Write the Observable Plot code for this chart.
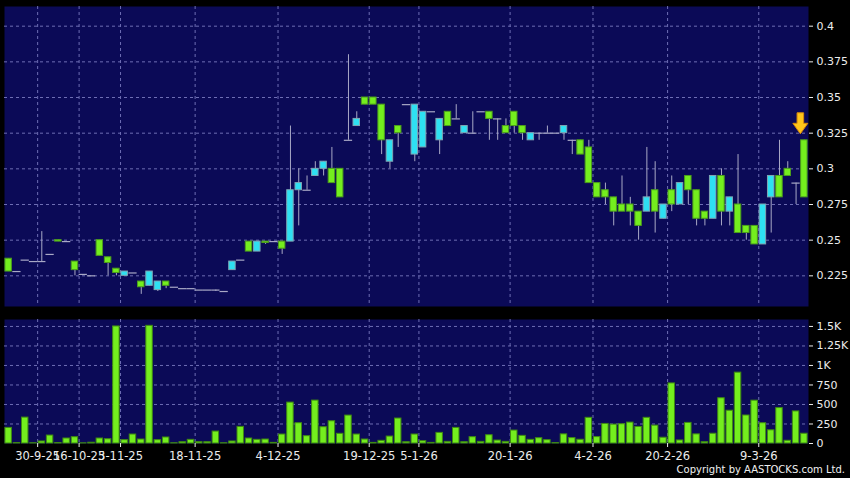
<!DOCTYPE html>
<html><head><meta charset="utf-8">
<script src="https://cdn.jsdelivr.net/npm/d3@7"></script>
<script src="https://cdn.jsdelivr.net/npm/@observablehq/plot@0.6"></script>
<style>
html,body{margin:0;padding:0;background:#000;}
body{width:850px;height:478px;overflow:hidden;position:relative;font-family:"DejaVu Sans",sans-serif;}
#price{position:absolute;left:0;top:0;}
#vol{position:absolute;left:0;top:312px;}
#copy{position:absolute;right:5px;top:464px;color:#f0f0f0;font-size:10px;font-family:"DejaVu Sans",sans-serif;}
</style></head><body>
<div id="price"></div><div id="vol"></div>
<div id="copy">Copyright by AASTOCKS.com Ltd.</div>
<script>
// ---- data (one entry per trading day, oldest first) ----
const opens  = [0.237,0.228,0.236,0.235,0.235,0.240,0.250,0.249,0.235,0.226,
                0.225,0.250,0.238,0.230,0.225,0.227,0.221,0.218,0.215,0.221,
                0.217,0.216,0.216,0.215,0.215,0.215,0.214,0.229,0.236,0.249,
                0.242,0.249,0.249,0.249,0.249,0.285,0.285,0.295,0.300,0.300,
                0.300,0.320,0.330,0.350,0.350,0.345,0.305,0.330,0.345,0.310,
                0.315,0.340,0.320,0.340,0.335,0.325,0.325,0.340,0.340,0.335,
                0.330,0.340,0.330,0.320,0.325,0.325,0.325,0.325,0.320,0.320,
                0.315,0.290,0.285,0.280,0.275,0.275,0.270,0.270,0.285,0.265,
                0.285,0.275,0.295,0.285,0.270,0.265,0.295,0.270,0.275,0.260,
                0.260,0.247,0.280,0.295,0.300,0.290,0.320];
const highs  = [0.237,0.228,0.236,0.235,0.256,0.240,0.250,0.249,0.235,0.226,
                0.225,0.250,0.238,0.230,0.228,0.227,0.221,0.228,0.221,0.221,
                0.217,0.216,0.216,0.215,0.215,0.215,0.214,0.235,0.236,0.249,
                0.249,0.249,0.249,0.249,0.330,0.300,0.295,0.305,0.305,0.315,
                0.300,0.380,0.340,0.350,0.350,0.345,0.320,0.330,0.345,0.345,
                0.340,0.340,0.335,0.340,0.345,0.330,0.340,0.340,0.340,0.335,
                0.335,0.340,0.330,0.325,0.325,0.330,0.325,0.330,0.320,0.320,
                0.320,0.290,0.290,0.280,0.295,0.280,0.270,0.315,0.305,0.275,
                0.295,0.290,0.295,0.285,0.270,0.295,0.300,0.280,0.310,0.260,
                0.260,0.275,0.295,0.320,0.305,0.290,0.320];
const lows   = [0.228,0.228,0.236,0.235,0.235,0.240,0.249,0.249,0.225,0.226,
                0.225,0.239,0.225,0.225,0.225,0.227,0.212,0.218,0.214,0.216,
                0.217,0.216,0.216,0.215,0.215,0.214,0.214,0.229,0.236,0.242,
                0.242,0.247,0.249,0.240,0.249,0.260,0.285,0.295,0.295,0.290,
                0.280,0.320,0.330,0.345,0.345,0.310,0.300,0.315,0.345,0.305,
                0.315,0.340,0.310,0.330,0.335,0.325,0.325,0.340,0.320,0.320,
                0.325,0.325,0.320,0.320,0.320,0.325,0.325,0.320,0.310,0.310,
                0.290,0.280,0.275,0.260,0.270,0.260,0.250,0.270,0.255,0.265,
                0.270,0.275,0.275,0.260,0.260,0.265,0.260,0.260,0.255,0.250,
                0.247,0.247,0.255,0.280,0.295,0.275,0.280];
const closes = [0.228,0.228,0.236,0.235,0.235,0.240,0.249,0.249,0.229,0.226,
                0.225,0.239,0.234,0.227,0.228,0.227,0.217,0.228,0.221,0.218,
                0.217,0.216,0.216,0.215,0.215,0.215,0.214,0.235,0.236,0.242,
                0.249,0.248,0.249,0.244,0.285,0.290,0.285,0.300,0.305,0.290,
                0.280,0.320,0.335,0.345,0.345,0.320,0.320,0.325,0.345,0.345,
                0.340,0.340,0.335,0.330,0.335,0.330,0.325,0.340,0.335,0.335,
                0.325,0.330,0.325,0.325,0.325,0.325,0.325,0.330,0.320,0.310,
                0.290,0.280,0.280,0.270,0.270,0.270,0.260,0.280,0.270,0.275,
                0.275,0.290,0.285,0.265,0.265,0.295,0.270,0.280,0.255,0.255,
                0.247,0.275,0.295,0.280,0.295,0.290,0.280];
const volumes = [200,5,332,3,26,102,5,64,81,2,
                 10,64,55,1500,43,115,51,1508,43,77,
                 3,17,47,17,17,153,3,26,213,64,
                 47,51,8,115,524,260,94,550,209,285,
                 124,358,115,51,8,34,89,320,17,115,
                 30,8,136,21,200,17,81,21,106,38,
                 21,166,98,47,68,43,5,117,69,48,
                 329,82,251,242,247,268,212,329,229,74,
                 770,39,264,117,17,125,580,420,908,359,
                 549,260,169,454,35,411,125];
const dateTickIndex  = [3, 8, 13, 22, 32, 43, 49, 60, 70, 79, 90];
const dateTickLabels = ["30-9-25","16-10-25","3-11-25","18-11-25","4-12-25","19-12-25","5-1-26","20-1-26","4-2-26","20-2-26","9-3-26"];
const priceTicks = [0.225, 0.25, 0.275, 0.3, 0.325, 0.35, 0.375, 0.4];
const volTicks = [0, 250, 500, 750, 1000, 1250, 1500];
const volTickLabels = ["0","250","500","750","1K","1.25K","1.5K"];

// ---- build table ----
const days = opens.map((o, i) => ({i, open: o, high: highs[i], low: lows[i], close: closes[i], volume: volumes[i]}));
const bodies = days.filter(d => d.open !== d.close);
const dojis = days.filter(d => d.open === d.close);
const lastDay = days[days.length - 1];
const gridPos = dateTickIndex.map(i => i + 0.5);
const labelMap = new Map(gridPos.map((p, k) => [p, dateTickLabels[k]]));
const volLabelMap = new Map(volTicks.map((v, k) => [v, volTickLabels[k]]));

const NAVY = "#0b0a57", GRID = "#6e6eb4", UP = "#2ee0f2", UPS = "#7fa6b4", DOWN = "#74ee1e", DOWNS = "#4c9e1c", WICK = "#a9a9c6";
const xDomain = [-0.5, days.length - 0.5];
const W = 850, ML = 4, MR = 42;
const half = 0.39;

const arrowSymbol = {draw(ctx, size) {
  const s = Math.sqrt(size / Math.PI);
  ctx.moveTo(-0.33*s, -1.05*s); ctx.lineTo(0.33*s, -1.05*s); ctx.lineTo(0.33*s, 0);
  ctx.lineTo(0.75*s, 0); ctx.lineTo(0, 1.05*s); ctx.lineTo(-0.75*s, 0); ctx.lineTo(-0.33*s, 0); ctx.closePath();
}};

const price = Plot.plot({
  width: W, height: 312, marginLeft: ML, marginRight: MR, marginTop: 6, marginBottom: 6,
  style: {background: "transparent", color: "#ececec", fontFamily: "DejaVu Sans, sans-serif", fontSize: "11px"},
  x: {domain: xDomain, axis: null},
  y: {domain: [0.2035, 0.4138], label: null},
  marks: [
    Plot.frame({fill: NAVY, stroke: null}),
    Plot.gridY(priceTicks, {stroke: GRID, strokeOpacity: 1, strokeDasharray: "3,3"}),
    Plot.gridX(gridPos, {stroke: GRID, strokeOpacity: 1, strokeDasharray: "3,3"}),
    Plot.axisY(priceTicks, {anchor: "right", label: null, tickSize: 4, tickPadding: 4, tickFormat: d => String(d)}),
    Plot.ruleX(days.filter(d => d.high > d.low), {x: "i", y1: "low", y2: "high", stroke: WICK, strokeWidth: 1}),
    Plot.ruleY(dojis, {y: "close", x1: d => d.i - 0.5, x2: d => d.i + 0.5, stroke: WICK, strokeWidth: 1.2}),
    Plot.rect(bodies, {x1: d => d.i - half, x2: d => d.i + half, y1: "open", y2: "close",
      fill: d => d.close > d.open ? UP : DOWN, stroke: d => d.close > d.open ? UPS : DOWNS, strokeWidth: 1}),
    Plot.dot([lastDay], {x: "i", y: "high", symbol: arrowSymbol, r: 10, dy: -17, dx: -4,
      fill: "#ffc61a", stroke: "#d8890a", strokeWidth: 1})
  ]
});
document.getElementById("price").append(price);

const vol = Plot.plot({
  width: W, height: 166, marginLeft: ML, marginRight: MR, marginTop: 7, marginBottom: 35,
  style: {background: "transparent", color: "#ececec", fontFamily: "DejaVu Sans, sans-serif", fontSize: "11px"},
  x: {domain: xDomain, label: null},
  y: {domain: [0, 1589], label: null},
  marks: [
    Plot.frame({fill: NAVY, stroke: null}),
    Plot.gridY(volTicks.slice(1), {stroke: GRID, strokeOpacity: 1, strokeDasharray: "3,3"}),
    Plot.gridX(gridPos, {stroke: GRID, strokeOpacity: 1, strokeDasharray: "3,3"}),
    Plot.rectY(days, {x1: d => d.i - half, x2: d => d.i + half, y1: 0, y2: "volume", fill: DOWN, stroke: "#3f8a12", strokeWidth: 1}),
    Plot.axisY(volTicks, {anchor: "right", label: null, tickSize: 4, tickPadding: 4, tickFormat: d => volLabelMap.get(d)}),
    Plot.axisX(gridPos, {anchor: "bottom", label: null, tickSize: 4, tickPadding: 4, fontSize: 11.5, tickFormat: d => labelMap.get(d)})
  ]
});
document.getElementById("vol").append(vol);
</script>
</body></html>
